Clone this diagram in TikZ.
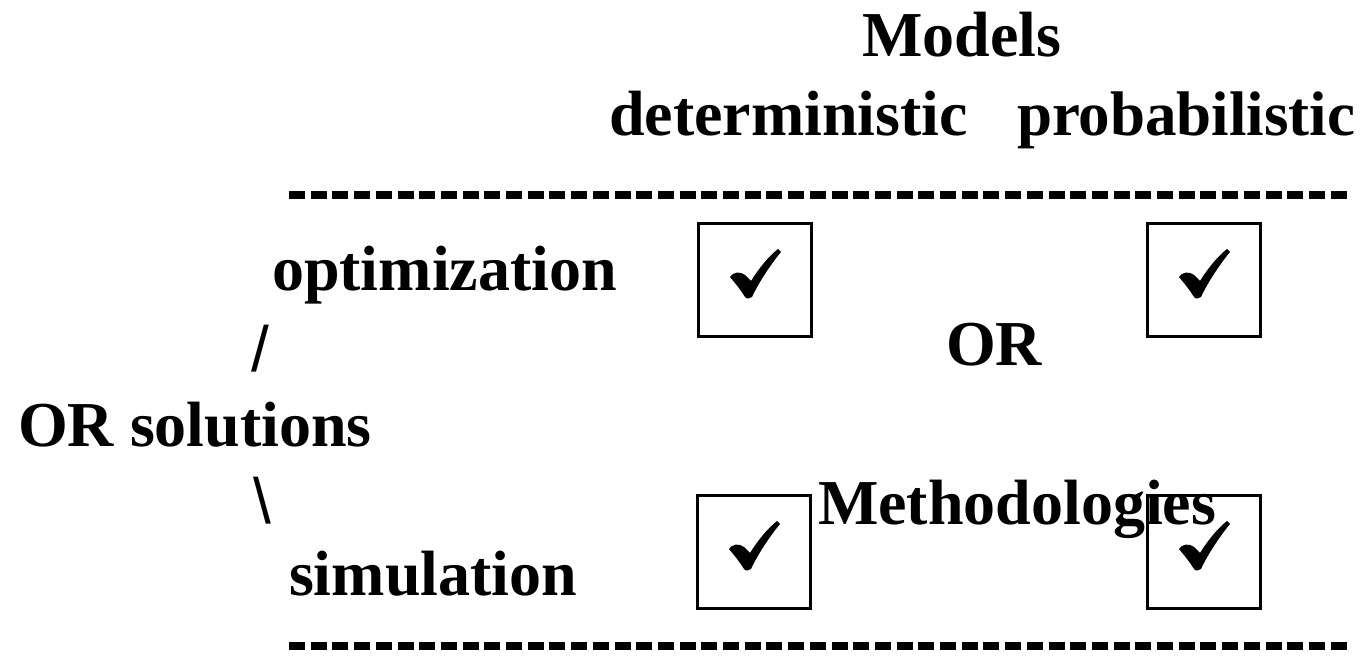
\documentclass[tikz,border=0pt]{standalone}
\usepackage{fontspec}
\setmainfont{Liberation Serif}
\newfontfamily\slfont{Liberation Sans}
\begin{document}
\begin{tikzpicture}[x=1pt,y=-1pt,
  lbl/.style={anchor=base west,inner sep=0pt,outer sep=0pt,
    font=\fontsize{64}{64}\selectfont\bfseries},
  slash/.style={anchor=base west,inner sep=0pt,outer sep=0pt,
    font=\fontsize{64}{64}\selectfont\slfont},
  dashrule/.style={line width=8pt,dash pattern=on 16pt off 5.7pt},
  tickbox/.style={draw,line width=2.6pt,minimum width=113pt,minimum height=113pt,
    inner sep=0pt,outer sep=0pt}]
\useasboundingbox (0,0) rectangle (1363,661);

% column headings
\node[lbl] (models) at (862,57) {Models};
\node[lbl] (determ) at (609,135) {deterministic};
\node[lbl,font=\fontsize{63}{63}\selectfont\bfseries] (probab) at (1017,135) {probabilistic};

% dashed rules
\coordinate (ra1) at (289,195);
\coordinate (ra2) at (1347,195);
\coordinate (rb1) at (289,646);
\coordinate (rb2) at (1347,646);
\draw[dashrule] (ra1) -- (ra2);
\draw[dashrule] (rb1) -- (rb2);

% row labels
\node[lbl] (optim) at (272,290) {optimization};
\node[slash] (sl) at (251,371) {/};
\node[lbl] (orsol) at (18,446) {OR solutions};
\node[slash] (bsl) at (253,523) {\symbol{92}};
\node[lbl] (simul) at (289,595) {simulation};

% centre label
\node[lbl] (ortext) at (946,365) {OR};

% check boxes
\node[tickbox] (b11) at (755,280) {};
\node[tickbox] (b12) at (1204,280) {};
\node[tickbox] (b21) at (754,552) {};
\node[tickbox] (b22) at (1204,552) {};

\node[lbl] (method) at (818,524) {Methodologies};

% check marks
\foreach \b in {b11,b12,b21,b22}{
  \fill[shift={(\b.center)}] (-25,-3) .. controls (-22,-8) and (-15,-9) .. (-10,-5)
    -- (-4,1) .. controls (4,-12) and (14,-24) .. (23,-31) -- (26,-28)
    .. controls (16,-16) and (4,2) .. (-3,17) .. controls (-5,19) and (-9,19) .. (-10,17)
    .. controls (-15,9) and (-20,3) .. cycle;
}
\end{tikzpicture}
\end{document}
